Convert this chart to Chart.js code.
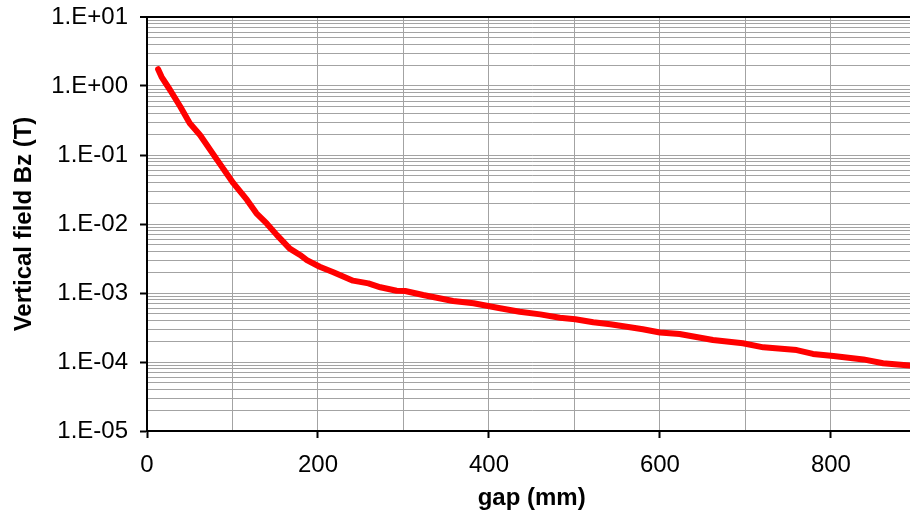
<!DOCTYPE html>
<html>
<head>
<meta charset="utf-8">
<script src="https://cdn.jsdelivr.net/npm/chart.js@4.4.1/dist/chart.umd.min.js"></script>
<style>
  html, body { margin: 0; padding: 0; background: #fff; overflow: hidden; width: 910px; height: 516px; }
  #wrap { position: relative; width: 920px; height: 516px; }
  canvas { display: block; }
</style>
</head>
<body>
<div id="wrap"><canvas id="chart" width="920" height="516"></canvas></div>
<script>
// Vertical field versus gap
const gapMm = [13, 17, 27, 39, 50, 62, 82, 101, 117, 128, 140, 152, 167, 179, 187, 202, 218, 241, 259, 273,
               292, 302, 323, 358, 382, 413, 436, 460, 483, 501, 522, 542, 565, 580, 600, 623, 662, 697, 721,
               760, 779, 803, 838, 861, 892, 900];
const bzTesla = [1.75, 1.36, 0.875, 0.50, 0.288, 0.195, 0.085, 0.039, 0.0223, 0.0143, 0.0102, 0.0069, 0.0044,
                 0.00356, 0.0030, 0.0024, 0.0020, 0.00151, 0.00138, 0.00121, 0.00108, 0.00107, 0.000935,
                 0.000766, 0.00071, 0.00060, 0.000536, 0.00049, 0.000438, 0.000416, 0.000376, 0.000352,
                 0.000318, 0.000298, 0.000268, 0.000255, 0.000208, 0.000187, 0.000163, 0.000149, 0.000131,
                 0.000122, 0.000109, 0.000096, 0.000089, 0.000088];

// Axis ticks
const xTickLabels = ['0', '200', '400', '600', '800'];
const xGridStep = 100;
const xMax = 900;
const yExponents = [-5, -4, -3, -2, -1, 0, 1];
const yTickLabels = ['1.E-05', '1.E-04', '1.E-03', '1.E-02', '1.E-01', '1.E+00', '1.E+01'];

const FONT = "'Liberation Sans', Arial, sans-serif";

// 1..9 x 10^n grid values between the decades
const yGridValues = [];
yExponents.forEach((e, i) => {
  const mults = i === yExponents.length - 1 ? [1] : [1, 2, 3, 4, 5, 6, 7, 8, 9];
  mults.forEach(m => yGridValues.push(Number((m * Math.pow(10, e)).toPrecision(12))));
});
const xGridValues = [];
for (let v = 0; v <= xMax; v += xGridStep) xGridValues.push(v);

const decadeIndex = v => {
  const e = Math.round(Math.log10(v));
  return Math.abs(Math.log10(v) - e) < 1e-9 ? yExponents.indexOf(e) : -1;
};
const xLabelIndex = v => xTickLabels.indexOf(String(v));

const GRID = '#a3a3a3';

new Chart(document.getElementById('chart'), {
  type: 'line',
  data: {
    datasets: [{
      data: gapMm.map((g, i) => ({ x: g, y: bzTesla[i] })),
      borderColor: '#ff0000',
      borderWidth: 6,
      borderCapStyle: 'round',
      borderJoinStyle: 'round',
      pointRadius: 0,
      tension: 0,
      fill: false
    }]
  },
  options: {
    responsive: false,
    animation: false,
    devicePixelRatio: 1,
    layout: { padding: { top: 17, right: 3.6, left: 0, bottom: 0 } },
    plugins: { legend: { display: false }, tooltip: { enabled: false } },
    scales: {
      x: {
        type: 'linear',
        min: 0,
        max: xMax,
        afterFit(s) { s.height = 85; s.paddingLeft = 0; s.paddingRight = 0; },
        afterBuildTicks(s) { s.ticks = xGridValues.map(v => ({ value: v })); },
        border: { color: '#000', width: 2 },
        grid: {
          color: GRID,
          lineWidth: 1,
          tickLength: 7,
          tickColor: ctx => (ctx.tick && xLabelIndex(ctx.tick.value) >= 0) ? '#000' : 'rgba(0,0,0,0)',
          tickWidth: 2
        },
        ticks: {
          autoSkip: false,
          maxRotation: 0,
          padding: 13,
          color: '#000',
          font: { family: FONT, size: 24 },
          callback: v => { const i = xLabelIndex(v); return i >= 0 ? xTickLabels[i] : ''; }
        },
        title: {
          display: true,
          text: 'gap (mm)',
          color: '#000',
          font: { family: FONT, size: 24, weight: 'bold' },
          padding: { top: 0, bottom: 3 }
        }
      },
      y: {
        type: 'logarithmic',
        min: 1e-5,
        max: 10,
        afterFit(s) { s.width = 147; s.paddingTop = 0; s.paddingBottom = 0; },
        afterBuildTicks(s) { s.ticks = yGridValues.map(v => ({ value: v, major: decadeIndex(v) >= 0 })); },
        border: { color: '#000', width: 2 },
        grid: {
          color: ctx => (ctx.tick && ctx.tick.value === 10) ? '#000' : GRID,
          lineWidth: ctx => (ctx.tick && ctx.tick.value === 10) ? 2 : 1,
          tickLength: 7,
          tickColor: ctx => (ctx.tick && decadeIndex(ctx.tick.value) >= 0) ? '#000' : 'rgba(0,0,0,0)',
          tickWidth: 2
        },
        ticks: {
          autoSkip: false,
          padding: 12,
          color: '#000',
          font: { family: FONT, size: 24 },
          callback: v => { const i = decadeIndex(v); return i >= 0 ? yTickLabels[i] : ''; }
        },
        title: {
          display: true,
          text: 'Vertical field Bz (T)',
          color: '#000',
          font: { family: FONT, size: 24, weight: 'bold' },
          padding: { top: 10, bottom: 0 }
        }
      }
    }
  }
});
</script>
</body>
</html>
